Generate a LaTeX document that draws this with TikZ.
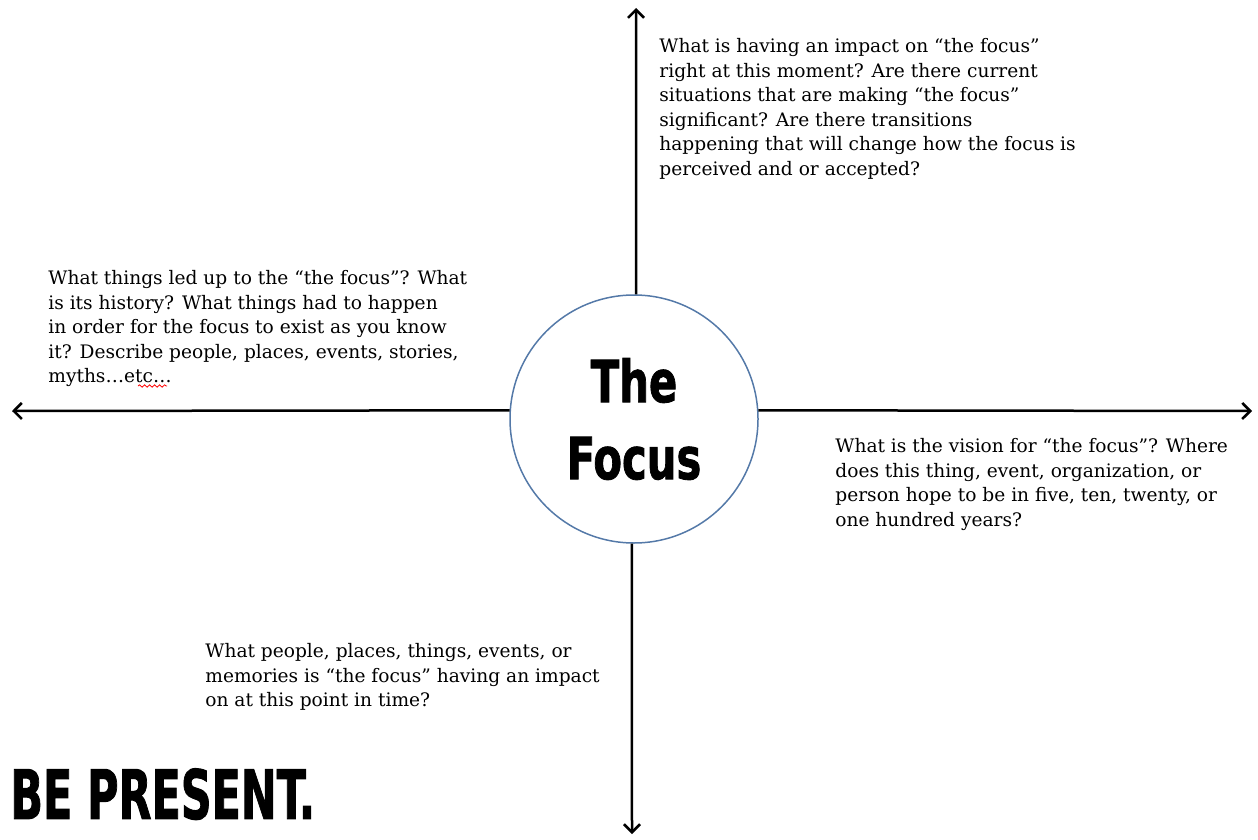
\documentclass[tikz,border=0pt]{standalone}
\usepackage{fontspec}
\usepackage{graphicx}
\usetikzlibrary{arrows.meta,decorations.pathmorphing}
\newfontfamily\questionfont{DejaVu Serif}
\newfontfamily\titlefont{DejaVu Sans Condensed}[BoldFeatures={FakeBold=1.5}]
\definecolor{focusblue}{RGB}{84,121,168}

\begin{document}
\begin{tikzpicture}[x=0.5pt,y=-0.5pt,
    >={Straight Barb[length=4pt,width=8pt]},
    question/.style={anchor=north west,inner sep=0pt,align=left,
      font=\questionfont\fontsize{9.3}{12.25}\selectfont},
    axis/.style={->,line width=1.25pt}]
    \useasboundingbox (0,0) rectangle (1258,840);
    %% The focus
    \node[circle,draw=focusblue,line width=0.75pt,minimum size=124pt,inner sep=0pt,
      align=center,font=\titlefont\bfseries\fontsize{29}{38.5}\selectfont] (focus) at (634,419)
      {\scalebox{0.8}[1]{The}\\\scalebox{0.8}[1]{Focus}};
    %% Arrow ends
    \coordinate (top) at (636,8);
    \coordinate (bottom) at (632,834);
    \coordinate (left) at (12,411);
    \coordinate (right) at (1252,411);
    %% Axes
    \draw[axis] (focus.89) -- (top);
    \draw[axis] (focus.269) -- (bottom);
    \draw[axis] (focus.176) -- (left);
    \draw[axis] (focus.4) -- (right);
    %% Questions
    \node[question] (now) at (659,38) {What is having an impact on “the focus”\\
      right at this moment? Are there current\\
      situations that are making “the focus”\\
      significant? Are there transitions\\
      happening that will change how the focus is\\
      perceived and or accepted?};
    \node[question] (past) at (48,270) {What things led up to the “the focus”? What\\
      is its history? What things had to happen\\
      in order for the focus to exist as you know\\
      it? Describe people, places, events, stories,\\
      myths…etc…};
    \node[question] (future) at (835,438) {What is the vision for “the focus”? Where\\
      does this thing, event, organization, or\\
      person hope to be in five, ten, twenty, or\\
      one hundred years?};
    \node[question] (impact) at (205,643) {What people, places, things, events, or\\
      memories is “the focus” having an impact\\
      on at this point in time?};
    %% spell check mark
    \draw[red,decorate,decoration={snake,amplitude=0.6pt,segment length=2.5pt}] (138,386) -- (167,386);
    %% Slogan
    \node[anchor=north west,inner sep=0pt,font=\titlefont\bfseries\fontsize{34}{34}\selectfont] (present) at (10,768)
      {\scalebox{0.7}[1]{BE PRESENT.}};
\end{tikzpicture}
\end{document}
